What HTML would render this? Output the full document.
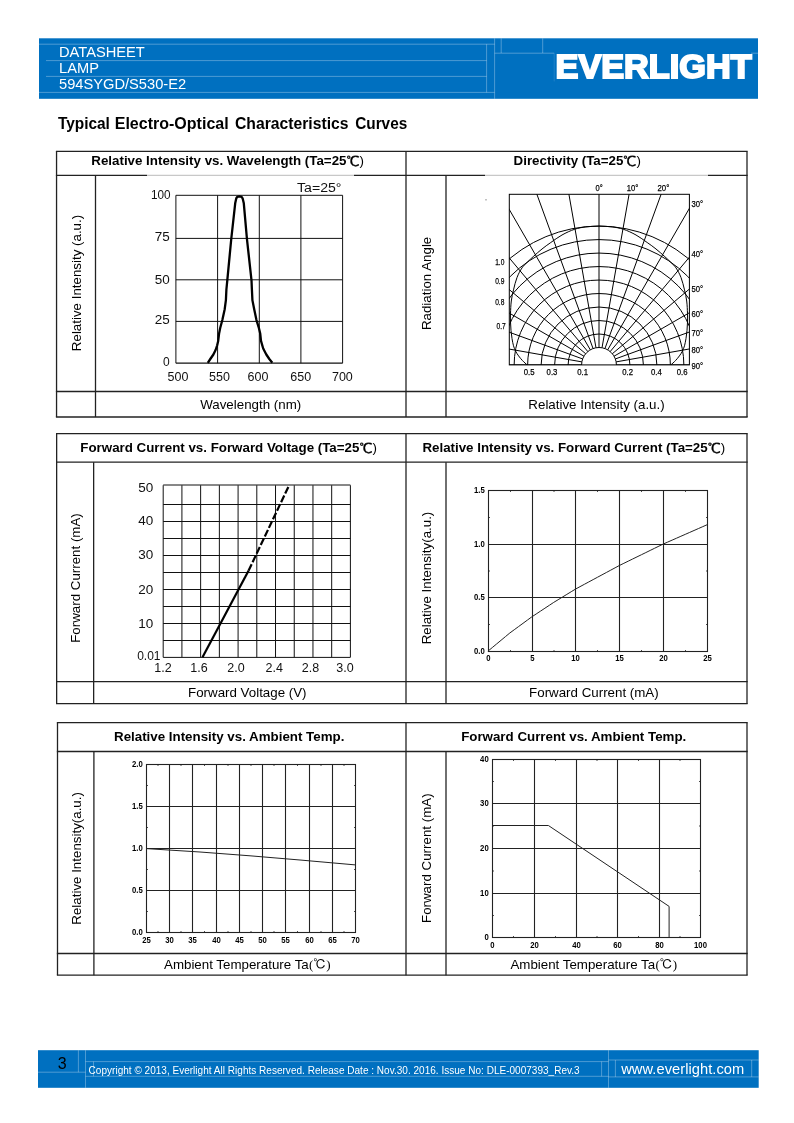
<!DOCTYPE html>
<html><head><meta charset="utf-8"><title>594SYGD/S530-E2 Datasheet</title>
<style>
html,body{margin:0;padding:0;background:#fff;}
body{width:794px;height:1123px;overflow:hidden;}
svg{display:block;font-family:"Liberation Sans", sans-serif;}
</style></head><body>
<svg width="794" height="1123" viewBox="0 0 794 1123" font-family='"Liberation Sans", sans-serif'>
<rect x="39" y="38.3" width="719" height="60.5" fill="#0070C0"/>
<line x1="39.00" y1="44.20" x2="494.60" y2="44.20" stroke="rgba(255,255,255,0.30)" stroke-width="1" />
<line x1="46.00" y1="60.60" x2="486.60" y2="60.60" stroke="rgba(255,255,255,0.30)" stroke-width="1" />
<line x1="46.00" y1="76.40" x2="486.60" y2="76.40" stroke="rgba(255,255,255,0.30)" stroke-width="1" />
<line x1="39.00" y1="92.40" x2="494.60" y2="92.40" stroke="rgba(255,255,255,0.30)" stroke-width="1" />
<line x1="486.60" y1="44.20" x2="486.60" y2="92.40" stroke="rgba(255,255,255,0.30)" stroke-width="1" />
<line x1="494.60" y1="38.30" x2="494.60" y2="98.80" stroke="rgba(255,255,255,0.30)" stroke-width="1" />
<line x1="501.20" y1="38.30" x2="501.20" y2="53.00" stroke="rgba(255,255,255,0.30)" stroke-width="1" />
<line x1="494.60" y1="53.20" x2="554.20" y2="53.20" stroke="rgba(255,255,255,0.30)" stroke-width="1" />
<line x1="751.00" y1="53.20" x2="758.00" y2="53.20" stroke="rgba(255,255,255,0.30)" stroke-width="1" />
<line x1="554.20" y1="53.20" x2="554.20" y2="81.40" stroke="rgba(255,255,255,0.12)" stroke-width="1" />
<line x1="542.70" y1="38.30" x2="542.70" y2="53.00" stroke="rgba(255,255,255,0.30)" stroke-width="1" />
<text x="59.00" y="56.80" font-size="14.67" font-weight="normal" text-anchor="start" fill="#fff" >DATASHEET</text>
<text x="59.00" y="72.80" font-size="14.67" font-weight="normal" text-anchor="start" fill="#fff" >LAMP</text>
<text x="59.00" y="88.80" font-size="14.67" font-weight="normal" text-anchor="start" fill="#fff" >594SYGD/S530-E2</text>
<text x="555.6" y="77.8" font-size="33" font-weight="bold" fill="#fff" stroke="#fff" stroke-width="2" stroke-linejoin="miter" textLength="196" lengthAdjust="spacingAndGlyphs">EVERLIGHT</text>
<text y="128.8" font-size="15.6" font-weight="bold" fill="#000"><tspan x="57.9" textLength="52" lengthAdjust="spacingAndGlyphs">Typical</tspan> <tspan x="114.7" textLength="114" lengthAdjust="spacingAndGlyphs">Electro-Optical</tspan> <tspan x="235" textLength="113.5" lengthAdjust="spacingAndGlyphs">Characteristics</tspan> <tspan x="355.2" textLength="52" lengthAdjust="spacingAndGlyphs">Curves</tspan></text>
<line x1="55.90" y1="151.40" x2="747.65" y2="151.40" stroke="#222" stroke-width="1.3" />
<line x1="55.90" y1="175.40" x2="747.65" y2="175.40" stroke="#222" stroke-width="1.3" />
<line x1="55.90" y1="391.50" x2="747.65" y2="391.50" stroke="#222" stroke-width="1.3" />
<line x1="55.90" y1="417.00" x2="747.65" y2="417.00" stroke="#222" stroke-width="1.3" />
<line x1="56.55" y1="151.40" x2="56.55" y2="417.00" stroke="#222" stroke-width="1.3" />
<line x1="747.00" y1="151.40" x2="747.00" y2="417.00" stroke="#222" stroke-width="1.3" />
<line x1="406.00" y1="151.40" x2="406.00" y2="417.00" stroke="#222" stroke-width="1.3" />
<line x1="95.50" y1="175.40" x2="95.50" y2="417.00" stroke="#222" stroke-width="1.3" />
<line x1="446.00" y1="175.40" x2="446.00" y2="417.00" stroke="#222" stroke-width="1.3" />
<line x1="56.00" y1="433.60" x2="747.65" y2="433.60" stroke="#222" stroke-width="1.3" />
<line x1="56.00" y1="462.15" x2="747.65" y2="462.15" stroke="#222" stroke-width="1.3" />
<line x1="56.00" y1="681.55" x2="747.65" y2="681.55" stroke="#222" stroke-width="1.3" />
<line x1="56.00" y1="703.70" x2="747.65" y2="703.70" stroke="#222" stroke-width="1.3" />
<line x1="56.65" y1="433.60" x2="56.65" y2="703.70" stroke="#222" stroke-width="1.3" />
<line x1="747.00" y1="433.60" x2="747.00" y2="703.70" stroke="#222" stroke-width="1.3" />
<line x1="406.00" y1="433.60" x2="406.00" y2="703.70" stroke="#222" stroke-width="1.3" />
<line x1="93.65" y1="462.15" x2="93.65" y2="703.70" stroke="#222" stroke-width="1.3" />
<line x1="446.00" y1="462.15" x2="446.00" y2="703.70" stroke="#222" stroke-width="1.3" />
<line x1="56.85" y1="722.60" x2="747.65" y2="722.60" stroke="#222" stroke-width="1.3" />
<line x1="56.85" y1="751.50" x2="747.65" y2="751.50" stroke="#222" stroke-width="1.3" />
<line x1="56.85" y1="953.50" x2="747.65" y2="953.50" stroke="#222" stroke-width="1.3" />
<line x1="56.85" y1="975.20" x2="747.65" y2="975.20" stroke="#222" stroke-width="1.3" />
<line x1="57.50" y1="722.60" x2="57.50" y2="975.20" stroke="#222" stroke-width="1.3" />
<line x1="747.00" y1="722.60" x2="747.00" y2="975.20" stroke="#222" stroke-width="1.3" />
<line x1="406.00" y1="722.60" x2="406.00" y2="975.20" stroke="#222" stroke-width="1.3" />
<line x1="93.90" y1="751.50" x2="93.90" y2="975.20" stroke="#222" stroke-width="1.3" />
<line x1="446.00" y1="751.50" x2="446.00" y2="975.20" stroke="#222" stroke-width="1.3" />
<line x1="147.00" y1="175.40" x2="354.00" y2="175.40" stroke="#fff" stroke-width="3" />
<line x1="147.00" y1="175.40" x2="354.00" y2="175.40" stroke="#c8c8c8" stroke-width="1.2" />
<line x1="485.00" y1="175.40" x2="708.00" y2="175.40" stroke="#fff" stroke-width="3" />
<line x1="485.00" y1="175.40" x2="708.00" y2="175.40" stroke="#c8c8c8" stroke-width="1.2" />
<text x="91.30" y="165.10" font-size="13.33" font-weight="bold">Relative Intensity vs. Wavelength (Ta=25<tspan font-family='"Liberation Sans","WenQuanYi Zen Hei",sans-serif' font-weight="normal" font-size="14" dx="0" dy="0.6" stroke="#000" stroke-width="0.35">℃</tspan><tspan font-weight="normal" dx="0.2" dy="-0.6">)</tspan></text>
<text x="513.60" y="165.10" font-size="13.33" font-weight="bold">Directivity (Ta=25<tspan font-family='"Liberation Sans","WenQuanYi Zen Hei",sans-serif' font-weight="normal" font-size="14" dx="0" dy="0.6" stroke="#000" stroke-width="0.35">℃</tspan><tspan font-weight="normal" dx="0.2" dy="-0.6">)</tspan></text>
<text x="80.30" y="452.20" font-size="13.33" font-weight="bold">Forward Current vs. Forward Voltage (Ta=25<tspan font-family='"Liberation Sans","WenQuanYi Zen Hei",sans-serif' font-weight="normal" font-size="14" dx="0" dy="0.6" stroke="#000" stroke-width="0.35">℃</tspan><tspan font-weight="normal" dx="0.2" dy="-0.6">)</tspan></text>
<text x="422.40" y="452.20" font-size="13.33" font-weight="bold">Relative Intensity vs. Forward Current (Ta=25<tspan font-family='"Liberation Sans","WenQuanYi Zen Hei",sans-serif' font-weight="normal" font-size="14" dx="0" dy="0.6" stroke="#000" stroke-width="0.35">℃</tspan><tspan font-weight="normal" dx="0.2" dy="-0.6">)</tspan></text>
<text x="229.20" y="741.30" font-size="13.33" font-weight="bold" text-anchor="middle" fill="#000" >Relative Intensity vs. Ambient Temp.</text>
<text x="573.70" y="741.30" font-size="13.33" font-weight="bold" text-anchor="middle" fill="#000" >Forward Current vs. Ambient Temp.</text>
<text x="250.70" y="409.40" font-size="13.33" font-weight="normal" text-anchor="middle" fill="#000" >Wavelength (nm)</text>
<text x="596.50" y="409.40" font-size="13.33" font-weight="normal" text-anchor="middle" fill="#000" >Relative Intensity (a.u.)</text>
<text x="247.30" y="696.90" font-size="13.33" font-weight="normal" text-anchor="middle" fill="#000" >Forward Voltage (V)</text>
<text x="593.90" y="696.90" font-size="13.33" font-weight="normal" text-anchor="middle" fill="#000" >Forward Current (mA)</text>
<text x="164.00" y="968.90" font-size="13.33">Ambient Temperature Ta<tspan font-family='"Liberation Serif","Noto Serif CJK SC",serif' font-size="13" dx="0.3" dy="0.3">(</tspan><tspan font-family='"Liberation Serif","IPAGothic",serif' font-size="13" dx="0">℃</tspan><tspan font-family='"Liberation Serif","Noto Serif CJK SC",serif' font-size="13" dx="0">)</tspan></text>
<text x="510.40" y="968.90" font-size="13.33">Ambient Temperature Ta<tspan font-family='"Liberation Serif","Noto Serif CJK SC",serif' font-size="13" dx="0.3" dy="0.3">(</tspan><tspan font-family='"Liberation Serif","IPAGothic",serif' font-size="13" dx="0">℃</tspan><tspan font-family='"Liberation Serif","Noto Serif CJK SC",serif' font-size="13" dx="0">)</tspan></text>
<text transform="translate(81.20,283.00) rotate(-90)" font-size="13.33" font-weight="normal" text-anchor="middle" fill="#000" >Relative Intensity (a.u.)</text>
<text transform="translate(430.60,283.40) rotate(-90)" font-size="13.33" font-weight="normal" text-anchor="middle" fill="#000" >Radiation Angle</text>
<text transform="translate(80.40,578.00) rotate(-90)" font-size="13.33" font-weight="normal" text-anchor="middle" fill="#000" >Forward Current (mA)</text>
<text transform="translate(430.60,578.00) rotate(-90)" font-size="13.33" font-weight="normal" text-anchor="middle" fill="#000" >Relative Intensity(a.u.)</text>
<text transform="translate(81.00,858.40) rotate(-90)" font-size="13.33" font-weight="normal" text-anchor="middle" fill="#000" >Relative Intensity(a.u.)</text>
<text transform="translate(430.60,858.20) rotate(-90)" font-size="13.33" font-weight="normal" text-anchor="middle" fill="#000" >Forward Current (mA)</text>
<line x1="175.90" y1="195.30" x2="175.90" y2="363.20" stroke="#111" stroke-width="1" />
<line x1="217.60" y1="195.30" x2="217.60" y2="363.20" stroke="#111" stroke-width="1" />
<line x1="259.30" y1="195.30" x2="259.30" y2="363.20" stroke="#111" stroke-width="1" />
<line x1="300.90" y1="195.30" x2="300.90" y2="363.20" stroke="#111" stroke-width="1" />
<line x1="342.60" y1="195.30" x2="342.60" y2="363.20" stroke="#111" stroke-width="1" />
<line x1="175.90" y1="195.30" x2="342.60" y2="195.30" stroke="#111" stroke-width="1" />
<line x1="175.90" y1="238.40" x2="342.60" y2="238.40" stroke="#111" stroke-width="1" />
<line x1="175.90" y1="279.80" x2="342.60" y2="279.80" stroke="#111" stroke-width="1" />
<line x1="175.90" y1="321.40" x2="342.60" y2="321.40" stroke="#111" stroke-width="1" />
<line x1="175.90" y1="363.20" x2="342.60" y2="363.20" stroke="#111" stroke-width="1.3" />
<polyline fill="none" stroke="#000" stroke-width="2.3" stroke-linejoin="round" points="207.8,362.8 210.3,359 213.4,354.5 215.6,350 217.1,345.5 218.2,340.9 219.1,333.4 220.2,328 222.4,319.8 224.7,309.2 225.9,300.1 226.4,289.5 227.3,280.3 231.2,239.5 235.2,203.3 236.3,198.3 237.4,196.8 239.4,196.3 241.6,196.8 242.6,198.3 243.8,203.3 247.0,239.5 251.5,280.3 251.9,289.5 252.4,300.1 254.2,309.2 256.4,319.8 258.7,327.3 260.2,333.4 261,340.9 263.2,348.5 266.3,354.5 269.3,359 272.3,362.8"/>
<text x="151.00" y="199.20" font-size="12" font-weight="normal" text-anchor="start" fill="#111" textLength="19.6" lengthAdjust="spacingAndGlyphs">100</text>
<text x="154.70" y="240.60" font-size="12" font-weight="normal" text-anchor="start" fill="#111" textLength="15" lengthAdjust="spacingAndGlyphs">75</text>
<text x="154.70" y="284.00" font-size="12" font-weight="normal" text-anchor="start" fill="#111" textLength="15" lengthAdjust="spacingAndGlyphs">50</text>
<text x="154.70" y="323.80" font-size="12" font-weight="normal" text-anchor="start" fill="#111" textLength="15" lengthAdjust="spacingAndGlyphs">25</text>
<text x="163.00" y="365.90" font-size="12" font-weight="normal" text-anchor="start" fill="#111" textLength="6.7" lengthAdjust="spacingAndGlyphs">0</text>
<text x="178.00" y="381.00" font-size="12.5" font-weight="normal" text-anchor="middle" fill="#111" >500</text>
<text x="219.50" y="381.00" font-size="12.5" font-weight="normal" text-anchor="middle" fill="#111" >550</text>
<text x="258.00" y="381.00" font-size="12.5" font-weight="normal" text-anchor="middle" fill="#111" >600</text>
<text x="300.80" y="381.00" font-size="12.5" font-weight="normal" text-anchor="middle" fill="#111" >650</text>
<text x="342.40" y="381.00" font-size="12.5" font-weight="normal" text-anchor="middle" fill="#111" >700</text>
<text x="297.00" y="192.20" font-size="12.5" font-weight="normal" text-anchor="start" fill="#111" textLength="44.5" lengthAdjust="spacingAndGlyphs">Ta=25°</text>
<clipPath id="pc"><rect x="509.3" y="194.3" width="180.10" height="170.60"/></clipPath>
<g clip-path="url(#pc)" fill="none" stroke="#000" stroke-width="1">
<circle cx="599.0" cy="364.9" r="17.40"/>
<circle cx="599.0" cy="364.9" r="30.89"/>
<circle cx="599.0" cy="364.9" r="44.38"/>
<circle cx="599.0" cy="364.9" r="57.87"/>
<circle cx="599.0" cy="364.9" r="71.36"/>
<circle cx="599.0" cy="364.9" r="84.85"/>
<circle cx="599.0" cy="364.9" r="98.34"/>
<circle cx="599.0" cy="364.9" r="111.83"/>
<circle cx="599.0" cy="364.9" r="125.32"/>
<circle cx="599.0" cy="364.9" r="138.81"/>
<line x1="581.60" y1="364.90" x2="199.00" y2="364.90"/>
<line x1="581.86" y1="361.88" x2="205.08" y2="295.44"/>
<line x1="582.65" y1="358.95" x2="223.12" y2="228.09"/>
<line x1="583.93" y1="356.20" x2="252.59" y2="164.90"/>
<line x1="585.67" y1="353.72" x2="292.58" y2="107.78"/>
<line x1="587.82" y1="351.57" x2="341.88" y2="58.48"/>
<line x1="590.30" y1="349.83" x2="399.00" y2="18.49"/>
<line x1="593.05" y1="348.55" x2="462.19" y2="-10.98"/>
<line x1="595.98" y1="347.76" x2="529.54" y2="-29.02"/>
<line x1="599.00" y1="347.50" x2="599.00" y2="-35.10"/>
<line x1="602.02" y1="347.76" x2="668.46" y2="-29.02"/>
<line x1="604.95" y1="348.55" x2="735.81" y2="-10.98"/>
<line x1="607.70" y1="349.83" x2="799.00" y2="18.49"/>
<line x1="610.18" y1="351.57" x2="856.12" y2="58.48"/>
<line x1="612.33" y1="353.72" x2="905.42" y2="107.78"/>
<line x1="614.07" y1="356.20" x2="945.41" y2="164.90"/>
<line x1="615.35" y1="358.95" x2="974.88" y2="228.09"/>
<line x1="616.14" y1="361.88" x2="992.92" y2="295.44"/>
<line x1="616.40" y1="364.90" x2="999.00" y2="364.90"/>
<path d="M527.10,364.90 C526.33,364.18 523.92,362.10 522.50,360.60 C521.08,359.10 519.73,357.45 518.60,355.90 C517.47,354.35 516.55,352.98 515.70,351.30 C514.85,349.62 514.12,347.93 513.50,345.80 C512.88,343.67 512.42,341.05 512.00,338.50 C511.58,335.95 511.25,333.25 511.00,330.50 C510.75,327.75 510.58,324.82 510.50,322.00 C510.42,319.18 510.37,317.10 510.50,313.60 C510.63,310.10 510.80,304.95 511.30,301.00 C511.80,297.05 512.55,293.82 513.50,289.90 C514.45,285.98 515.58,281.17 517.00,277.50 C518.42,273.83 520.25,270.48 522.00,267.90 C523.75,265.32 525.53,263.97 527.50,262.00 C529.47,260.03 531.38,258.27 533.80,256.10 C536.22,253.93 539.17,251.27 542.00,249.00 C544.83,246.73 547.47,244.83 550.80,242.50 C554.13,240.17 558.05,237.20 562.00,235.00 C565.95,232.80 570.50,230.65 574.50,229.30 C578.50,227.95 581.92,227.43 586.00,226.90 C590.08,226.37 594.67,226.10 599.00,226.10 C603.33,226.10 607.92,226.37 612.00,226.90 C616.08,227.43 619.50,227.95 623.50,229.30 C627.50,230.65 632.05,232.80 636.00,235.00 C639.95,237.20 643.87,240.17 647.20,242.50 C650.53,244.83 653.17,246.73 656.00,249.00 C658.83,251.27 661.78,253.93 664.20,256.10 C666.62,258.27 668.53,260.03 670.50,262.00 C672.47,263.97 674.25,265.32 676.00,267.90 C677.75,270.48 679.58,273.83 681.00,277.50 C682.42,281.17 683.55,285.98 684.50,289.90 C685.45,293.82 686.20,297.05 686.70,301.00 C687.20,304.95 687.37,310.10 687.50,313.60 C687.63,317.10 687.58,319.18 687.50,322.00 C687.42,324.82 687.25,327.75 687.00,330.50 C686.75,333.25 686.42,335.95 686.00,338.50 C685.58,341.05 685.12,343.67 684.50,345.80 C683.88,347.93 683.15,349.62 682.30,351.30 C681.45,352.98 680.53,354.35 679.40,355.90 C678.27,357.45 676.92,359.10 675.50,360.60 C674.08,362.10 671.67,364.18 670.90,364.90"/>
</g>
<rect x="509.3" y="194.3" width="180.10" height="170.60" fill="none" stroke="#000" stroke-width="1"/>
<text x="595.60" y="191.20" font-size="9.5" font-weight="normal" text-anchor="start" fill="#000" textLength="7.2" lengthAdjust="spacingAndGlyphs" stroke="#000" stroke-width="0.25">0°</text>
<text x="626.70" y="191.20" font-size="9.5" font-weight="normal" text-anchor="start" fill="#000" textLength="11.6" lengthAdjust="spacingAndGlyphs" stroke="#000" stroke-width="0.25">10°</text>
<text x="657.50" y="191.20" font-size="9.5" font-weight="normal" text-anchor="start" fill="#000" textLength="11.8" lengthAdjust="spacingAndGlyphs" stroke="#000" stroke-width="0.25">20°</text>
<text x="691.60" y="207.10" font-size="9.5" font-weight="normal" text-anchor="start" fill="#000" textLength="11.6" lengthAdjust="spacingAndGlyphs" stroke="#000" stroke-width="0.25">30°</text>
<text x="691.60" y="257.40" font-size="9.5" font-weight="normal" text-anchor="start" fill="#000" textLength="11.6" lengthAdjust="spacingAndGlyphs" stroke="#000" stroke-width="0.25">40°</text>
<text x="691.60" y="292.00" font-size="9.5" font-weight="normal" text-anchor="start" fill="#000" textLength="11.6" lengthAdjust="spacingAndGlyphs" stroke="#000" stroke-width="0.25">50°</text>
<text x="691.60" y="317.40" font-size="9.5" font-weight="normal" text-anchor="start" fill="#000" textLength="11.6" lengthAdjust="spacingAndGlyphs" stroke="#000" stroke-width="0.25">60°</text>
<text x="691.60" y="336.00" font-size="9.5" font-weight="normal" text-anchor="start" fill="#000" textLength="11.6" lengthAdjust="spacingAndGlyphs" stroke="#000" stroke-width="0.25">70°</text>
<text x="691.60" y="352.60" font-size="9.5" font-weight="normal" text-anchor="start" fill="#000" textLength="11.6" lengthAdjust="spacingAndGlyphs" stroke="#000" stroke-width="0.25">80°</text>
<text x="691.60" y="368.60" font-size="9.5" font-weight="normal" text-anchor="start" fill="#000" textLength="11.6" lengthAdjust="spacingAndGlyphs" stroke="#000" stroke-width="0.25">90°</text>
<text x="523.70" y="374.80" font-size="9.5" font-weight="normal" text-anchor="start" fill="#000" textLength="10.8" lengthAdjust="spacingAndGlyphs" stroke="#000" stroke-width="0.25">0.5</text>
<text x="546.60" y="374.80" font-size="9.5" font-weight="normal" text-anchor="start" fill="#000" textLength="10.8" lengthAdjust="spacingAndGlyphs" stroke="#000" stroke-width="0.25">0.3</text>
<text x="577.30" y="374.80" font-size="9.5" font-weight="normal" text-anchor="start" fill="#000" textLength="10.8" lengthAdjust="spacingAndGlyphs" stroke="#000" stroke-width="0.25">0.1</text>
<text x="622.20" y="374.80" font-size="9.5" font-weight="normal" text-anchor="start" fill="#000" textLength="10.8" lengthAdjust="spacingAndGlyphs" stroke="#000" stroke-width="0.25">0.2</text>
<text x="651.00" y="374.80" font-size="9.5" font-weight="normal" text-anchor="start" fill="#000" textLength="10.8" lengthAdjust="spacingAndGlyphs" stroke="#000" stroke-width="0.25">0.4</text>
<text x="676.70" y="374.80" font-size="9.5" font-weight="normal" text-anchor="start" fill="#000" textLength="10.8" lengthAdjust="spacingAndGlyphs" stroke="#000" stroke-width="0.25">0.6</text>
<text x="495.20" y="264.60" font-size="9.5" font-weight="normal" text-anchor="start" fill="#000" textLength="9.2" lengthAdjust="spacingAndGlyphs" stroke="#000" stroke-width="0.25">1.0</text>
<text x="495.20" y="284.00" font-size="9.5" font-weight="normal" text-anchor="start" fill="#000" textLength="9.2" lengthAdjust="spacingAndGlyphs" stroke="#000" stroke-width="0.25">0.9</text>
<text x="495.20" y="305.20" font-size="9.5" font-weight="normal" text-anchor="start" fill="#000" textLength="9.2" lengthAdjust="spacingAndGlyphs" stroke="#000" stroke-width="0.25">0.8</text>
<text x="496.60" y="328.90" font-size="9.5" font-weight="normal" text-anchor="start" fill="#000" textLength="9.2" lengthAdjust="spacingAndGlyphs" stroke="#000" stroke-width="0.25">0.7</text>
<rect x="485.5" y="199.2" width="1" height="1.2" fill="#666"/>
<line x1="163.20" y1="485.25" x2="163.20" y2="657.30" stroke="#111" stroke-width="1" />
<line x1="181.92" y1="485.25" x2="181.92" y2="657.30" stroke="#111" stroke-width="1" />
<line x1="200.64" y1="485.25" x2="200.64" y2="657.30" stroke="#111" stroke-width="1" />
<line x1="219.36" y1="485.25" x2="219.36" y2="657.30" stroke="#111" stroke-width="1" />
<line x1="238.08" y1="485.25" x2="238.08" y2="657.30" stroke="#111" stroke-width="1" />
<line x1="256.80" y1="485.25" x2="256.80" y2="657.30" stroke="#111" stroke-width="1" />
<line x1="275.52" y1="485.25" x2="275.52" y2="657.30" stroke="#111" stroke-width="1" />
<line x1="294.24" y1="485.25" x2="294.24" y2="657.30" stroke="#111" stroke-width="1" />
<line x1="312.96" y1="485.25" x2="312.96" y2="657.30" stroke="#111" stroke-width="1" />
<line x1="331.68" y1="485.25" x2="331.68" y2="657.30" stroke="#111" stroke-width="1" />
<line x1="350.40" y1="485.25" x2="350.40" y2="657.30" stroke="#111" stroke-width="1" />
<line x1="163.20" y1="485.00" x2="350.40" y2="485.00" stroke="#111" stroke-width="1" />
<line x1="163.20" y1="504.50" x2="350.40" y2="504.50" stroke="#111" stroke-width="1" />
<line x1="163.20" y1="521.50" x2="350.40" y2="521.50" stroke="#111" stroke-width="1" />
<line x1="163.20" y1="538.50" x2="350.40" y2="538.50" stroke="#111" stroke-width="1" />
<line x1="163.20" y1="555.50" x2="350.40" y2="555.50" stroke="#111" stroke-width="1" />
<line x1="163.20" y1="572.50" x2="350.40" y2="572.50" stroke="#111" stroke-width="1" />
<line x1="163.20" y1="589.50" x2="350.40" y2="589.50" stroke="#111" stroke-width="1" />
<line x1="163.20" y1="606.50" x2="350.40" y2="606.50" stroke="#111" stroke-width="1" />
<line x1="163.20" y1="623.50" x2="350.40" y2="623.50" stroke="#111" stroke-width="1" />
<line x1="163.20" y1="640.50" x2="350.40" y2="640.50" stroke="#111" stroke-width="1" />
<line x1="163.20" y1="657.40" x2="350.40" y2="657.40" stroke="#111" stroke-width="1" />
<line x1="202.50" y1="657.30" x2="248.50" y2="570.80" stroke="#000" stroke-width="2.2" />
<line x1="248.50" y1="570.80" x2="288.70" y2="486.20" stroke="#000" stroke-width="2.2" stroke-dasharray="7.3 2.2"/>
<text x="153.30" y="492.10" font-size="12.5" font-weight="normal" text-anchor="end" fill="#111" textLength="15" lengthAdjust="spacingAndGlyphs">50</text>
<text x="153.30" y="525.30" font-size="12.5" font-weight="normal" text-anchor="end" fill="#111" textLength="15" lengthAdjust="spacingAndGlyphs">40</text>
<text x="153.30" y="559.40" font-size="12.5" font-weight="normal" text-anchor="end" fill="#111" textLength="15" lengthAdjust="spacingAndGlyphs">30</text>
<text x="153.30" y="594.20" font-size="12.5" font-weight="normal" text-anchor="end" fill="#111" textLength="15" lengthAdjust="spacingAndGlyphs">20</text>
<text x="153.30" y="628.10" font-size="12.5" font-weight="normal" text-anchor="end" fill="#111" textLength="15" lengthAdjust="spacingAndGlyphs">10</text>
<text x="137.20" y="659.80" font-size="12" font-weight="normal" text-anchor="start" fill="#111" >0.01</text>
<text x="163.00" y="672.00" font-size="12.5" font-weight="normal" text-anchor="middle" fill="#111" >1.2</text>
<text x="199.00" y="672.00" font-size="12.5" font-weight="normal" text-anchor="middle" fill="#111" >1.6</text>
<text x="236.00" y="672.00" font-size="12.5" font-weight="normal" text-anchor="middle" fill="#111" >2.0</text>
<text x="274.20" y="672.00" font-size="12.5" font-weight="normal" text-anchor="middle" fill="#111" >2.4</text>
<text x="310.50" y="672.00" font-size="12.5" font-weight="normal" text-anchor="middle" fill="#111" >2.8</text>
<text x="345.00" y="672.00" font-size="12.5" font-weight="normal" text-anchor="middle" fill="#111" >3.0</text>
<rect x="488.5" y="490.5" width="219.00" height="161.00" fill="none" stroke="#222" stroke-width="1.1"/>
<line x1="532.50" y1="490.50" x2="532.50" y2="651.50" stroke="#222" stroke-width="1.1" />
<line x1="575.50" y1="490.50" x2="575.50" y2="651.50" stroke="#222" stroke-width="1.1" />
<line x1="619.50" y1="490.50" x2="619.50" y2="651.50" stroke="#222" stroke-width="1.1" />
<line x1="663.50" y1="490.50" x2="663.50" y2="651.50" stroke="#222" stroke-width="1.1" />
<line x1="488.50" y1="544.50" x2="707.50" y2="544.50" stroke="#222" stroke-width="1.1" />
<line x1="488.50" y1="597.50" x2="707.50" y2="597.50" stroke="#222" stroke-width="1.1" />
<line x1="510.50" y1="490.50" x2="510.50" y2="491.80" stroke="#222" stroke-width="1" />
<line x1="510.50" y1="651.50" x2="510.50" y2="650.20" stroke="#222" stroke-width="1" />
<line x1="554.00" y1="490.50" x2="554.00" y2="491.80" stroke="#222" stroke-width="1" />
<line x1="554.00" y1="651.50" x2="554.00" y2="650.20" stroke="#222" stroke-width="1" />
<line x1="597.50" y1="490.50" x2="597.50" y2="491.80" stroke="#222" stroke-width="1" />
<line x1="597.50" y1="651.50" x2="597.50" y2="650.20" stroke="#222" stroke-width="1" />
<line x1="641.50" y1="490.50" x2="641.50" y2="491.80" stroke="#222" stroke-width="1" />
<line x1="641.50" y1="651.50" x2="641.50" y2="650.20" stroke="#222" stroke-width="1" />
<line x1="685.50" y1="490.50" x2="685.50" y2="491.80" stroke="#222" stroke-width="1" />
<line x1="685.50" y1="651.50" x2="685.50" y2="650.20" stroke="#222" stroke-width="1" />
<line x1="488.50" y1="517.50" x2="489.80" y2="517.50" stroke="#222" stroke-width="1" />
<line x1="707.50" y1="517.50" x2="706.20" y2="517.50" stroke="#222" stroke-width="1" />
<line x1="488.50" y1="571.00" x2="489.80" y2="571.00" stroke="#222" stroke-width="1" />
<line x1="707.50" y1="571.00" x2="706.20" y2="571.00" stroke="#222" stroke-width="1" />
<line x1="488.50" y1="624.50" x2="489.80" y2="624.50" stroke="#222" stroke-width="1" />
<line x1="707.50" y1="624.50" x2="706.20" y2="624.50" stroke="#222" stroke-width="1" />
<text x="484.70" y="493.10" font-size="8.4" font-weight="bold" text-anchor="end" fill="#000" textLength="10.74" lengthAdjust="spacingAndGlyphs">1.5</text>
<text x="484.70" y="547.10" font-size="8.4" font-weight="bold" text-anchor="end" fill="#000" textLength="10.74" lengthAdjust="spacingAndGlyphs">1.0</text>
<text x="484.70" y="600.10" font-size="8.4" font-weight="bold" text-anchor="end" fill="#000" textLength="10.74" lengthAdjust="spacingAndGlyphs">0.5</text>
<text x="484.70" y="654.10" font-size="8.4" font-weight="bold" text-anchor="end" fill="#000" textLength="10.74" lengthAdjust="spacingAndGlyphs">0.0</text>
<text x="488.50" y="661.00" font-size="8.4" font-weight="bold" text-anchor="middle" fill="#000" textLength="4.30" lengthAdjust="spacingAndGlyphs">0</text>
<text x="532.50" y="661.00" font-size="8.4" font-weight="bold" text-anchor="middle" fill="#000" textLength="4.30" lengthAdjust="spacingAndGlyphs">5</text>
<text x="575.50" y="661.00" font-size="8.4" font-weight="bold" text-anchor="middle" fill="#000" textLength="8.59" lengthAdjust="spacingAndGlyphs">10</text>
<text x="619.50" y="661.00" font-size="8.4" font-weight="bold" text-anchor="middle" fill="#000" textLength="8.59" lengthAdjust="spacingAndGlyphs">15</text>
<text x="663.50" y="661.00" font-size="8.4" font-weight="bold" text-anchor="middle" fill="#000" textLength="8.59" lengthAdjust="spacingAndGlyphs">20</text>
<text x="707.50" y="661.00" font-size="8.4" font-weight="bold" text-anchor="middle" fill="#000" textLength="8.59" lengthAdjust="spacingAndGlyphs">25</text>
<polyline fill="none" stroke="#222" stroke-width="1" points="487.9,651.2 492.29,647.56 496.67,643.91 501.06,640.27 505.44,636.62 509.83,632.98 514.22,629.76 518.6,626.54 522.99,623.33 527.37,620.11 531.76,616.9 536.15,614.0 540.53,611.11 544.92,608.21 549.3,605.32 553.69,602.42 558.08,599.74 562.46,597.06 566.85,594.38 571.23,591.7 575.62,589.02 580.01,586.67 584.39,584.31 588.78,581.95 593.16,579.59 597.55,577.23 601.94,574.87 606.32,572.52 610.71,570.16 615.09,567.8 619.48,565.44 623.87,563.3 628.25,561.15 632.64,559.01 637.02,556.86 641.41,554.72 645.8,552.58 650.18,550.43 654.57,548.29 658.95,546.14 663.34,544.0 667.73,542.07 672.11,540.14 676.5,538.21 680.88,536.28 685.27,534.35 689.66,532.42 694.04,530.49 698.43,528.56 702.81,526.63 707.2,524.7"/>
<rect x="146.5" y="764.5" width="209.00" height="168.00" fill="none" stroke="#222" stroke-width="1.1"/>
<line x1="169.50" y1="764.50" x2="169.50" y2="932.50" stroke="#222" stroke-width="1.1" />
<line x1="192.50" y1="764.50" x2="192.50" y2="932.50" stroke="#222" stroke-width="1.1" />
<line x1="216.50" y1="764.50" x2="216.50" y2="932.50" stroke="#222" stroke-width="1.1" />
<line x1="239.50" y1="764.50" x2="239.50" y2="932.50" stroke="#222" stroke-width="1.1" />
<line x1="262.50" y1="764.50" x2="262.50" y2="932.50" stroke="#222" stroke-width="1.1" />
<line x1="285.50" y1="764.50" x2="285.50" y2="932.50" stroke="#222" stroke-width="1.1" />
<line x1="309.50" y1="764.50" x2="309.50" y2="932.50" stroke="#222" stroke-width="1.1" />
<line x1="332.50" y1="764.50" x2="332.50" y2="932.50" stroke="#222" stroke-width="1.1" />
<line x1="146.50" y1="806.50" x2="355.50" y2="806.50" stroke="#222" stroke-width="1.1" />
<line x1="146.50" y1="848.50" x2="355.50" y2="848.50" stroke="#222" stroke-width="1.1" />
<line x1="146.50" y1="890.50" x2="355.50" y2="890.50" stroke="#222" stroke-width="1.1" />
<line x1="158.00" y1="764.50" x2="158.00" y2="765.80" stroke="#222" stroke-width="1" />
<line x1="158.00" y1="932.50" x2="158.00" y2="931.20" stroke="#222" stroke-width="1" />
<line x1="181.00" y1="764.50" x2="181.00" y2="765.80" stroke="#222" stroke-width="1" />
<line x1="181.00" y1="932.50" x2="181.00" y2="931.20" stroke="#222" stroke-width="1" />
<line x1="204.50" y1="764.50" x2="204.50" y2="765.80" stroke="#222" stroke-width="1" />
<line x1="204.50" y1="932.50" x2="204.50" y2="931.20" stroke="#222" stroke-width="1" />
<line x1="228.00" y1="764.50" x2="228.00" y2="765.80" stroke="#222" stroke-width="1" />
<line x1="228.00" y1="932.50" x2="228.00" y2="931.20" stroke="#222" stroke-width="1" />
<line x1="251.00" y1="764.50" x2="251.00" y2="765.80" stroke="#222" stroke-width="1" />
<line x1="251.00" y1="932.50" x2="251.00" y2="931.20" stroke="#222" stroke-width="1" />
<line x1="274.00" y1="764.50" x2="274.00" y2="765.80" stroke="#222" stroke-width="1" />
<line x1="274.00" y1="932.50" x2="274.00" y2="931.20" stroke="#222" stroke-width="1" />
<line x1="297.50" y1="764.50" x2="297.50" y2="765.80" stroke="#222" stroke-width="1" />
<line x1="297.50" y1="932.50" x2="297.50" y2="931.20" stroke="#222" stroke-width="1" />
<line x1="321.00" y1="764.50" x2="321.00" y2="765.80" stroke="#222" stroke-width="1" />
<line x1="321.00" y1="932.50" x2="321.00" y2="931.20" stroke="#222" stroke-width="1" />
<line x1="344.00" y1="764.50" x2="344.00" y2="765.80" stroke="#222" stroke-width="1" />
<line x1="344.00" y1="932.50" x2="344.00" y2="931.20" stroke="#222" stroke-width="1" />
<line x1="146.50" y1="785.50" x2="147.80" y2="785.50" stroke="#222" stroke-width="1" />
<line x1="355.50" y1="785.50" x2="354.20" y2="785.50" stroke="#222" stroke-width="1" />
<line x1="146.50" y1="827.50" x2="147.80" y2="827.50" stroke="#222" stroke-width="1" />
<line x1="355.50" y1="827.50" x2="354.20" y2="827.50" stroke="#222" stroke-width="1" />
<line x1="146.50" y1="869.50" x2="147.80" y2="869.50" stroke="#222" stroke-width="1" />
<line x1="355.50" y1="869.50" x2="354.20" y2="869.50" stroke="#222" stroke-width="1" />
<line x1="146.50" y1="911.50" x2="147.80" y2="911.50" stroke="#222" stroke-width="1" />
<line x1="355.50" y1="911.50" x2="354.20" y2="911.50" stroke="#222" stroke-width="1" />
<text x="142.70" y="767.10" font-size="8.4" font-weight="bold" text-anchor="end" fill="#000" textLength="10.74" lengthAdjust="spacingAndGlyphs">2.0</text>
<text x="142.70" y="809.10" font-size="8.4" font-weight="bold" text-anchor="end" fill="#000" textLength="10.74" lengthAdjust="spacingAndGlyphs">1.5</text>
<text x="142.70" y="851.10" font-size="8.4" font-weight="bold" text-anchor="end" fill="#000" textLength="10.74" lengthAdjust="spacingAndGlyphs">1.0</text>
<text x="142.70" y="893.10" font-size="8.4" font-weight="bold" text-anchor="end" fill="#000" textLength="10.74" lengthAdjust="spacingAndGlyphs">0.5</text>
<text x="142.70" y="935.10" font-size="8.4" font-weight="bold" text-anchor="end" fill="#000" textLength="10.74" lengthAdjust="spacingAndGlyphs">0.0</text>
<text x="146.50" y="942.60" font-size="8.4" font-weight="bold" text-anchor="middle" fill="#000" textLength="8.59" lengthAdjust="spacingAndGlyphs">25</text>
<text x="169.50" y="942.60" font-size="8.4" font-weight="bold" text-anchor="middle" fill="#000" textLength="8.59" lengthAdjust="spacingAndGlyphs">30</text>
<text x="192.50" y="942.60" font-size="8.4" font-weight="bold" text-anchor="middle" fill="#000" textLength="8.59" lengthAdjust="spacingAndGlyphs">35</text>
<text x="216.50" y="942.60" font-size="8.4" font-weight="bold" text-anchor="middle" fill="#000" textLength="8.59" lengthAdjust="spacingAndGlyphs">40</text>
<text x="239.50" y="942.60" font-size="8.4" font-weight="bold" text-anchor="middle" fill="#000" textLength="8.59" lengthAdjust="spacingAndGlyphs">45</text>
<text x="262.50" y="942.60" font-size="8.4" font-weight="bold" text-anchor="middle" fill="#000" textLength="8.59" lengthAdjust="spacingAndGlyphs">50</text>
<text x="285.50" y="942.60" font-size="8.4" font-weight="bold" text-anchor="middle" fill="#000" textLength="8.59" lengthAdjust="spacingAndGlyphs">55</text>
<text x="309.50" y="942.60" font-size="8.4" font-weight="bold" text-anchor="middle" fill="#000" textLength="8.59" lengthAdjust="spacingAndGlyphs">60</text>
<text x="332.50" y="942.60" font-size="8.4" font-weight="bold" text-anchor="middle" fill="#000" textLength="8.59" lengthAdjust="spacingAndGlyphs">65</text>
<text x="355.50" y="942.60" font-size="8.4" font-weight="bold" text-anchor="middle" fill="#000" textLength="8.59" lengthAdjust="spacingAndGlyphs">70</text>
<polyline fill="none" stroke="#222" stroke-width="1" points="146.2,848.6 200,852 250,855.8 300,860 355.3,864.9"/>
<rect x="492.5" y="759.5" width="208.00" height="178.00" fill="none" stroke="#222" stroke-width="1.1"/>
<line x1="534.50" y1="759.50" x2="534.50" y2="937.50" stroke="#222" stroke-width="1.1" />
<line x1="576.50" y1="759.50" x2="576.50" y2="937.50" stroke="#222" stroke-width="1.1" />
<line x1="617.50" y1="759.50" x2="617.50" y2="937.50" stroke="#222" stroke-width="1.1" />
<line x1="659.50" y1="759.50" x2="659.50" y2="937.50" stroke="#222" stroke-width="1.1" />
<line x1="492.50" y1="803.50" x2="700.50" y2="803.50" stroke="#222" stroke-width="1.1" />
<line x1="492.50" y1="848.50" x2="700.50" y2="848.50" stroke="#222" stroke-width="1.1" />
<line x1="492.50" y1="893.50" x2="700.50" y2="893.50" stroke="#222" stroke-width="1.1" />
<line x1="513.50" y1="759.50" x2="513.50" y2="760.80" stroke="#222" stroke-width="1" />
<line x1="513.50" y1="937.50" x2="513.50" y2="936.20" stroke="#222" stroke-width="1" />
<line x1="555.50" y1="759.50" x2="555.50" y2="760.80" stroke="#222" stroke-width="1" />
<line x1="555.50" y1="937.50" x2="555.50" y2="936.20" stroke="#222" stroke-width="1" />
<line x1="597.00" y1="759.50" x2="597.00" y2="760.80" stroke="#222" stroke-width="1" />
<line x1="597.00" y1="937.50" x2="597.00" y2="936.20" stroke="#222" stroke-width="1" />
<line x1="638.50" y1="759.50" x2="638.50" y2="760.80" stroke="#222" stroke-width="1" />
<line x1="638.50" y1="937.50" x2="638.50" y2="936.20" stroke="#222" stroke-width="1" />
<line x1="680.00" y1="759.50" x2="680.00" y2="760.80" stroke="#222" stroke-width="1" />
<line x1="680.00" y1="937.50" x2="680.00" y2="936.20" stroke="#222" stroke-width="1" />
<line x1="492.50" y1="781.50" x2="493.80" y2="781.50" stroke="#222" stroke-width="1" />
<line x1="700.50" y1="781.50" x2="699.20" y2="781.50" stroke="#222" stroke-width="1" />
<line x1="492.50" y1="826.00" x2="493.80" y2="826.00" stroke="#222" stroke-width="1" />
<line x1="700.50" y1="826.00" x2="699.20" y2="826.00" stroke="#222" stroke-width="1" />
<line x1="492.50" y1="871.00" x2="493.80" y2="871.00" stroke="#222" stroke-width="1" />
<line x1="700.50" y1="871.00" x2="699.20" y2="871.00" stroke="#222" stroke-width="1" />
<line x1="492.50" y1="915.50" x2="493.80" y2="915.50" stroke="#222" stroke-width="1" />
<line x1="700.50" y1="915.50" x2="699.20" y2="915.50" stroke="#222" stroke-width="1" />
<text x="488.70" y="762.10" font-size="8.4" font-weight="bold" text-anchor="end" fill="#000" textLength="8.59" lengthAdjust="spacingAndGlyphs">40</text>
<text x="488.70" y="806.10" font-size="8.4" font-weight="bold" text-anchor="end" fill="#000" textLength="8.59" lengthAdjust="spacingAndGlyphs">30</text>
<text x="488.70" y="851.10" font-size="8.4" font-weight="bold" text-anchor="end" fill="#000" textLength="8.59" lengthAdjust="spacingAndGlyphs">20</text>
<text x="488.70" y="896.10" font-size="8.4" font-weight="bold" text-anchor="end" fill="#000" textLength="8.59" lengthAdjust="spacingAndGlyphs">10</text>
<text x="488.70" y="940.10" font-size="8.4" font-weight="bold" text-anchor="end" fill="#000" textLength="4.30" lengthAdjust="spacingAndGlyphs">0</text>
<text x="492.50" y="948.40" font-size="8.4" font-weight="bold" text-anchor="middle" fill="#000" textLength="4.30" lengthAdjust="spacingAndGlyphs">0</text>
<text x="534.50" y="948.40" font-size="8.4" font-weight="bold" text-anchor="middle" fill="#000" textLength="8.59" lengthAdjust="spacingAndGlyphs">20</text>
<text x="576.50" y="948.40" font-size="8.4" font-weight="bold" text-anchor="middle" fill="#000" textLength="8.59" lengthAdjust="spacingAndGlyphs">40</text>
<text x="617.50" y="948.40" font-size="8.4" font-weight="bold" text-anchor="middle" fill="#000" textLength="8.59" lengthAdjust="spacingAndGlyphs">60</text>
<text x="659.50" y="948.40" font-size="8.4" font-weight="bold" text-anchor="middle" fill="#000" textLength="8.59" lengthAdjust="spacingAndGlyphs">80</text>
<text x="700.50" y="948.40" font-size="8.4" font-weight="bold" text-anchor="middle" fill="#000" textLength="12.89" lengthAdjust="spacingAndGlyphs">100</text>
<polyline fill="none" stroke="#222" stroke-width="1" points="492.3,825.5 548.4,825.5 669.1,906.4 669.1,937.35"/>
<rect x="38" y="1050.2" width="720.7" height="37.6" fill="#0070C0"/>
<line x1="78.40" y1="1050.20" x2="78.40" y2="1072.20" stroke="rgba(255,255,255,0.30)" stroke-width="1" />
<line x1="85.50" y1="1050.20" x2="85.50" y2="1087.80" stroke="rgba(255,255,255,0.30)" stroke-width="1" />
<line x1="38.00" y1="1072.20" x2="85.50" y2="1072.20" stroke="rgba(255,255,255,0.30)" stroke-width="1" />
<line x1="85.50" y1="1061.60" x2="608.50" y2="1061.60" stroke="rgba(255,255,255,0.30)" stroke-width="1" />
<line x1="85.50" y1="1076.30" x2="608.50" y2="1076.30" stroke="rgba(255,255,255,0.30)" stroke-width="1" />
<line x1="93.50" y1="1061.60" x2="93.50" y2="1076.30" stroke="rgba(255,255,255,0.30)" stroke-width="1" />
<line x1="601.60" y1="1061.60" x2="601.60" y2="1076.30" stroke="rgba(255,255,255,0.30)" stroke-width="1" />
<line x1="608.50" y1="1050.20" x2="608.50" y2="1087.80" stroke="rgba(255,255,255,0.30)" stroke-width="1" />
<line x1="608.50" y1="1060.00" x2="758.70" y2="1060.00" stroke="rgba(255,255,255,0.30)" stroke-width="1" />
<line x1="608.50" y1="1076.90" x2="758.70" y2="1076.90" stroke="rgba(255,255,255,0.30)" stroke-width="1" />
<line x1="615.40" y1="1060.00" x2="615.40" y2="1076.90" stroke="rgba(255,255,255,0.30)" stroke-width="1" />
<line x1="751.70" y1="1060.00" x2="751.70" y2="1076.90" stroke="rgba(255,255,255,0.30)" stroke-width="1" />
<text x="62.20" y="1068.70" font-size="16" font-weight="normal" text-anchor="middle" fill="#000" >3</text>
<text x="88.60" y="1074.00" font-size="10" font-weight="normal" text-anchor="start" fill="#fff" textLength="491">Copyright © 2013, Everlight All Rights Reserved. Release Date : Nov.30. 2016. Issue No: DLE-0007393_Rev.3</text>
<text x="621.20" y="1073.80" font-size="14.67" font-weight="normal" text-anchor="start" fill="#fff" textLength="123">www.everlight.com</text>
</svg>
</body></html>
